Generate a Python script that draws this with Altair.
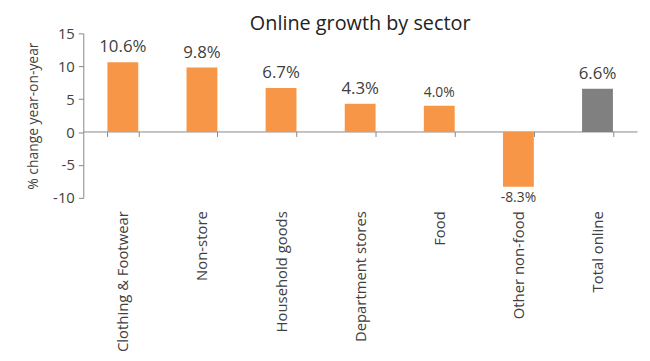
import altair as alt
import pandas as pd

categories = ["Clothing & Footwear", "Non-store", "Household goods", "Department stores",
              "Food", "Other non-food", "Total online"]
values = [10.6, 9.8, 6.7, 4.3, 4.0, -8.3, 6.6]
labels = ["10.6%", "9.8%", "6.7%", "4.3%", "4.0%", "-8.3%", "6.6%"]
kinds = ["Sector", "Sector", "Sector", "Sector", "Sector", "Sector", "Total"]
y_ticks = [-10, -5, 0, 5, 10, 15]

df = pd.DataFrame({"category": categories, "value": values, "label": labels, "kind": kinds})

FONT = "Open Sans"
TEXT = "#404040"
AXIS = "#888888"

x = alt.X("category:N", sort=categories, title=None,
          scale=alt.Scale(paddingInner=0.61, paddingOuter=0.305),
          axis=alt.Axis(labelAngle=-90, offset=-67, labelPadding=75, domainColor=AXIS,
                        tickColor=AXIS, tickBand="extent", tickSize=5,
                        labelFontSize=15, labelColor=TEXT, labelFont=FONT,
                        labelBaseline="middle", labelAlign="right"))
y = alt.Y("value:Q", title="% change year-on-year",
          scale=alt.Scale(domain=[-10, 15], nice=False, zero=False),
          axis=alt.Axis(values=y_ticks, grid=False, domainColor=AXIS, labelOverlap=False,
                        labelExpr="toString(datum.value)",
                        tickColor=AXIS, tickSize=5, labelFontSize=15, labelColor=TEXT,
                        labelFont=FONT, titleFont=FONT, titleFontSize=14,
                        titleFontWeight="normal", titleColor=TEXT, titlePadding=12,
                        labelPadding=4))

bars = alt.Chart(df).mark_bar().encode(
    x=x, y=y, y2=alt.datum(0),
    color=alt.Color("kind:N", scale=alt.Scale(domain=["Sector", "Total"],
                                              range=["#F79646", "#808080"]), legend=None),
)

pos = alt.Chart(df).transform_filter("datum.value >= 0").mark_text(
    baseline="bottom", dy=-6, font=FONT, color=TEXT
).encode(
    x=x, y=y, text="label:N",
    size=alt.condition("datum.category == 'Food'", alt.value(14), alt.value(17)),
)
neg = alt.Chart(df).transform_filter("datum.value < 0").mark_text(
    baseline="top", dy=4, font=FONT, color=TEXT, fontSize=14
).encode(
    x=x, y=y, text="label:N",
)

chart = alt.layer(bars, pos, neg).properties(
    width=559, height=166,
    padding={"left": 19, "top": 5, "right": 5, "bottom": 0},
    title=alt.TitleParams("Online growth by sector", font=FONT, fontSize=20,
                          fontWeight="normal", color="#222222", anchor="middle", offset=-8),
).configure_view(stroke=None)

chart.save("out.html", embed_options={"renderer": "svg", "actions": False})
